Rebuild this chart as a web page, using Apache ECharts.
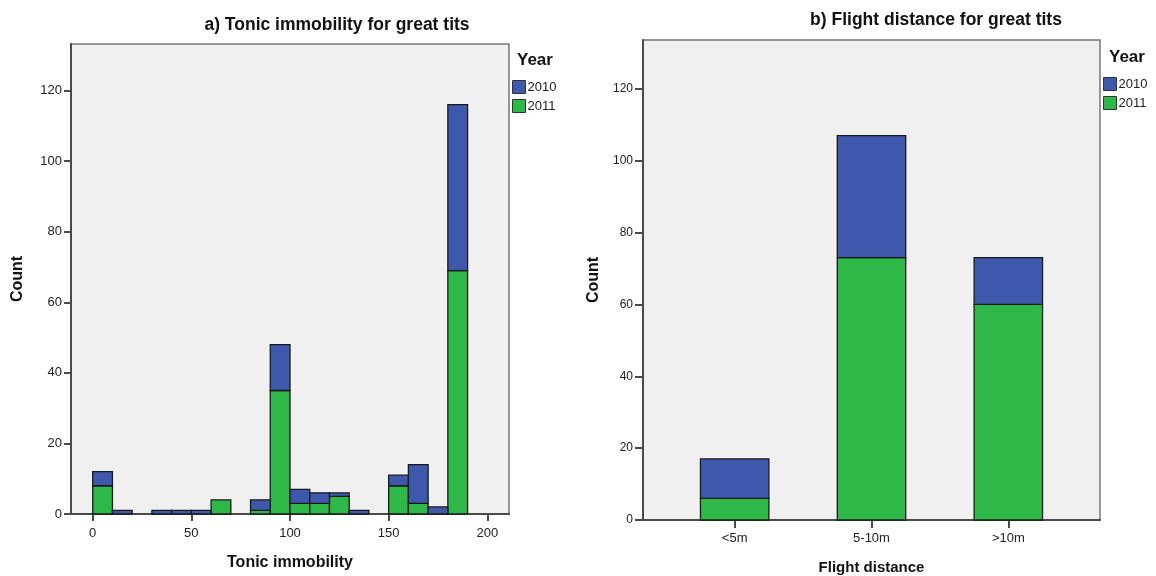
<!DOCTYPE html>
<html>
<head>
<meta charset="utf-8">
<script src="https://cdn.jsdelivr.net/npm/echarts@6/dist/echarts.min.js"></script>
<style>
  html, body { margin: 0; padding: 0; background: #ffffff; }
  #chart { width: 1156px; height: 576px; }
</style>
</head>
<body>
<div id="chart"></div>
<script>
// Panel a) tonic immobility histogram, 10-unit bins
const binStarts = [0, 10, 20, 30, 40, 50, 60, 70, 80, 90, 100, 110, 120, 130, 140, 150, 160, 170, 180];
const tonic2010 = [4, 1, 0, 1, 1, 1, 0, 0, 3, 13, 4, 3, 1, 1, 0, 3, 11, 2, 47];
const tonic2011 = [8, 0, 0, 0, 0, 0, 4, 0, 1, 35, 3, 3, 5, 0, 0, 8, 3, 0, 69];
const binWidth = 10;
const tonicTicks = [0, 50, 100, 150, 200];

// Panel b) flight distance
const flightCats = ['<5m', '5-10m', '>10m'];
const flight2010 = [11, 34, 13];
const flight2011 = [6, 73, 60];

const countTicks = [0, 20, 40, 60, 80, 100, 120];
const years = ['2010', '2011'];

const BLUE = '#3E58AC';
const GREEN = '#2EB848';
const FONT = '"Liberation Sans", Arial, sans-serif';
const EDGE = '#1a1a1a';

function rectItem(api, x0, x1, base, v, fill) {
  if (!v) return null;
  const a = api.coord([x0, base]);
  const b = api.coord([x1, base + v]);
  return {
    type: 'rect',
    shape: { x: a[0], y: b[1], width: b[0] - a[0], height: a[1] - b[1] },
    style: { fill: fill, stroke: EDGE, lineWidth: 1.3 }
  };
}

function histSeries(name, color, vals, bases) {
  return {
    name: name,
    type: 'custom',
    xAxisIndex: 0, yAxisIndex: 0,
    itemStyle: { color: color },
    encode: { x: 0, y: 1 },
    data: binStarts.map((s, i) => [s, vals[i], bases ? bases[i] : 0]),
    renderItem: (params, api) => {
      const s = api.value(0);
      return rectItem(api, s, s + binWidth, api.value(2), api.value(1), color);
    }
  };
}

function flightSeries(name, color, vals, bases) {
  return {
    name: name,
    type: 'custom',
    xAxisIndex: 1, yAxisIndex: 1,
    itemStyle: { color: color },
    encode: { x: 0, y: 1 },
    data: flightCats.map((c, i) => [i, vals[i], bases ? bases[i] : 0]),
    renderItem: (params, api) => {
      const i = api.value(0);
      return rectItem(api, i - 0.25, i + 0.25, api.value(2), api.value(1), color);
    }
  };
}

const axisLine = { show: true, onZero: false, lineStyle: { color: '#4a4a4a', width: 2 } };
const tickStyle = { lineStyle: { color: '#4a4a4a', width: 2 } };
const labelStyle = { color: '#222', fontSize: 13, fontFamily: FONT };
const nameStyle = { color: '#111', fontSize: 16, fontWeight: 'bold', fontFamily: FONT };

const legendBase = {
  orient: 'vertical',
  icon: 'rect',
  itemWidth: 13,
  itemHeight: 13,
  itemGap: 5,
  padding: 0,
  selectedMode: false,
  data: years,
  itemStyle: { borderColor: '#333', borderWidth: 1 },
  textStyle: { color: '#222', fontSize: 13, fontFamily: FONT, padding: [0, 0, 0, -3] }
};

const option = {
  backgroundColor: '#ffffff',
  animation: false,
  title: [
    { text: 'a) Tonic immobility for great tits', left: 337, top: 16, textAlign: 'center',
      textStyle: { fontSize: 17.5, fontWeight: 'bold', color: '#111', fontFamily: FONT }, padding: 0 },
    { text: 'b) Flight distance for great tits', left: 936, top: 11, textAlign: 'center',
      textStyle: { fontSize: 17.5, fontWeight: 'bold', color: '#111', fontFamily: FONT }, padding: 0 },
    { text: 'Year', left: 517, top: 52, padding: 0,
      textStyle: { fontSize: 17, fontWeight: 'bold', color: '#111', fontFamily: FONT } },
    { text: 'Year', left: 1109, top: 49, padding: 0,
      textStyle: { fontSize: 17, fontWeight: 'bold', color: '#111', fontFamily: FONT } }
  ],
  legend: [
    Object.assign({ left: 512, top: 80 }, legendBase),
    Object.assign({ left: 1103, top: 77 }, legendBase)
  ],
  grid: [
    { left: 71, top: 44, width: 438, height: 470, show: true, backgroundColor: '#F0F0F0',
      borderColor: '#777', borderWidth: 1.5, containLabel: false, outerBoundsMode: 'none' },
    { left: 643, top: 40, width: 457, height: 480, show: true, backgroundColor: '#F0F0F0',
      borderColor: '#777', borderWidth: 1.5, containLabel: false, outerBoundsMode: 'none' }
  ],
  xAxis: [
    {
      type: 'value', gridIndex: 0, min: -11, max: 211,
      name: 'Tonic immobility', nameLocation: 'middle', nameGap: 41, nameTextStyle: nameStyle,
      axisLine: axisLine,
      axisTick: Object.assign({ show: true, inside: false, length: 7, customValues: tonicTicks }, tickStyle),
      axisLabel: Object.assign({ margin: 13, customValues: tonicTicks }, labelStyle),
      splitLine: { show: false }
    },
    {
      type: 'value', gridIndex: 1, min: -0.67, max: 2.67,
      name: 'Flight distance', nameLocation: 'middle', nameGap: 40,
      nameTextStyle: Object.assign({}, nameStyle, { fontSize: 15 }),
      axisLine: axisLine,
      axisTick: Object.assign({ show: true, inside: false, length: 8, customValues: [0, 1, 2] }, tickStyle),
      axisLabel: Object.assign({ margin: 12, customValues: [0, 1, 2],
        formatter: v => flightCats[Math.round(v)] }, labelStyle, { fontSize: 13 }),
      splitLine: { show: false }
    }
  ],
  yAxis: [
    {
      type: 'value', gridIndex: 0, min: 0, max: 133.2,
      name: 'Count', nameLocation: 'middle', nameGap: 45, nameTextStyle: nameStyle,
      axisLine: axisLine,
      axisTick: Object.assign({ show: true, inside: false, length: 7, customValues: countTicks }, tickStyle),
      axisLabel: Object.assign({ margin: 9, customValues: countTicks }, labelStyle),
      splitLine: { show: false }
    },
    {
      type: 'value', gridIndex: 1, min: 0, max: 133.6,
      name: 'Count', nameLocation: 'middle', nameGap: 41, nameTextStyle: nameStyle,
      axisLine: axisLine,
      axisTick: Object.assign({ show: true, inside: false, length: 8, customValues: countTicks }, tickStyle),
      axisLabel: Object.assign({ margin: 10, customValues: countTicks }, labelStyle, { fontSize: 12 }),
      splitLine: { show: false }
    }
  ],
  series: [
    histSeries('2011', GREEN, tonic2011, null),
    histSeries('2010', BLUE, tonic2010, tonic2011),
    flightSeries('2011', GREEN, flight2011, null),
    flightSeries('2010', BLUE, flight2010, flight2011)
  ]
};

const chart = echarts.init(document.getElementById('chart'), null, { renderer: 'canvas' });
chart.setOption(option);
</script>
</body>
</html>
